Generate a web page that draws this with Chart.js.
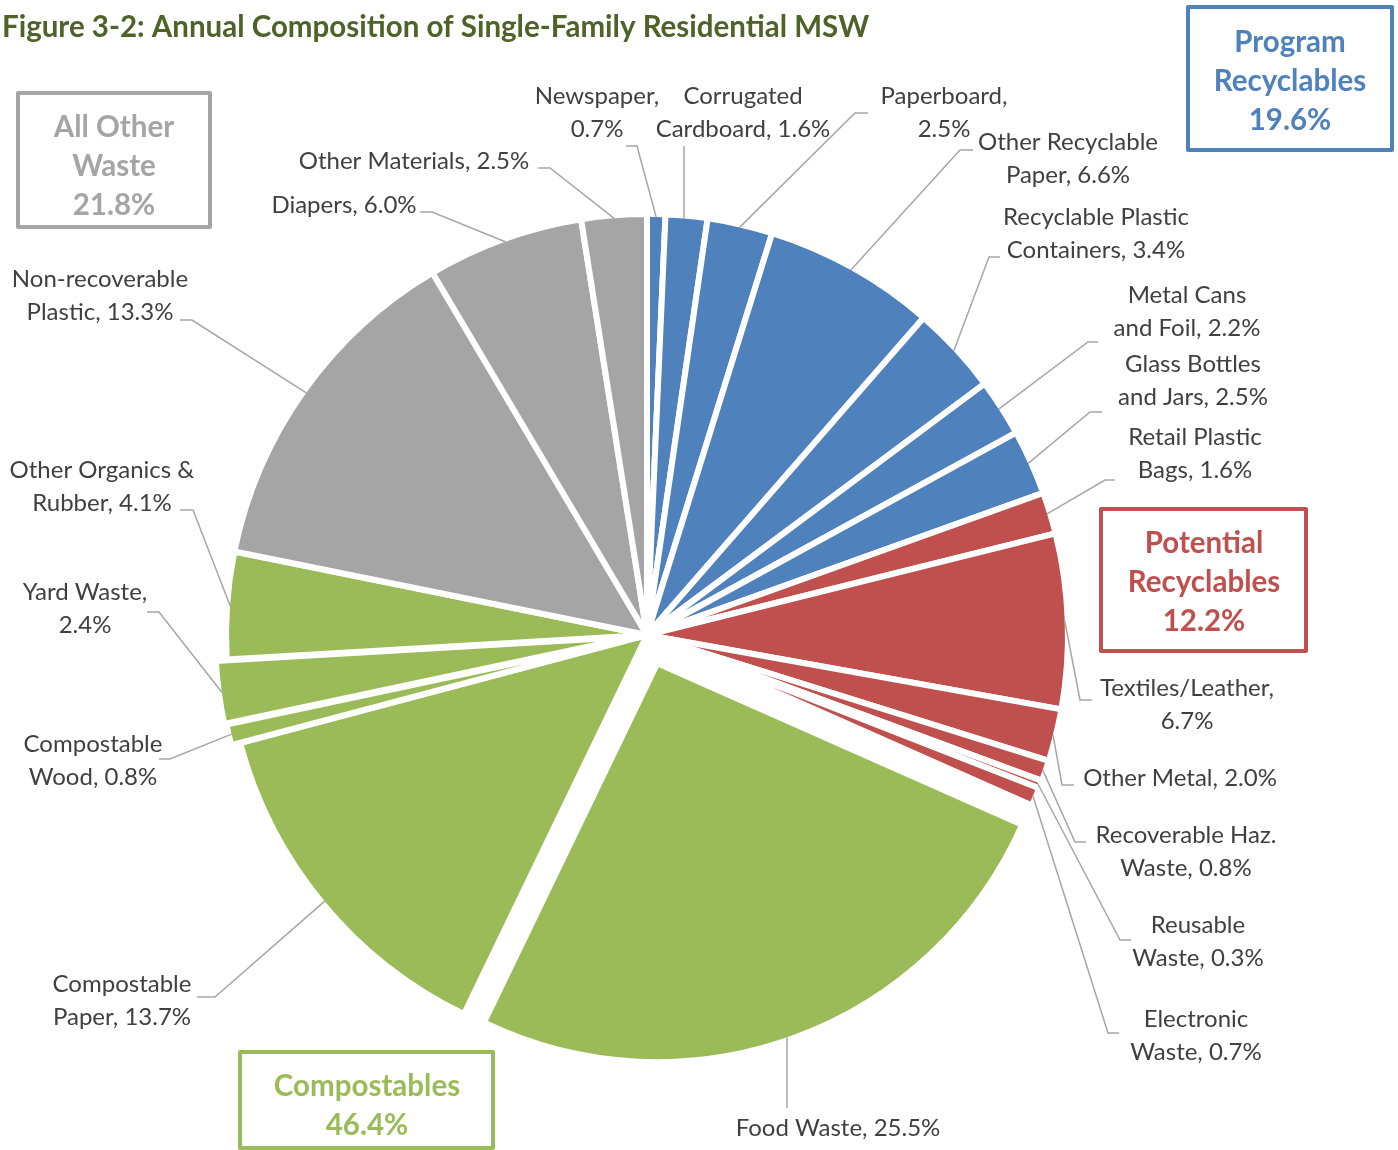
<!DOCTYPE html>
<html>
<head>
<meta charset="utf-8">
<title>Figure 3-2: Annual Composition of Single-Family Residential MSW</title>
<script src="https://cdn.jsdelivr.net/npm/chart.js@4.4.1/dist/chart.umd.min.js"></script>
<style>
  html, body { margin: 0; padding: 0; background: #fff; }
  #wrap { width: 1398px; height: 1150px; position: relative; }
</style>
</head>
<body>
<div id="wrap"><canvas id="myChart" width="1398" height="1150"></canvas></div>
<script>
// data, clockwise from 12 o'clock
const categories = ['Newspaper', 'Corrugated Cardboard', 'Paperboard', 'Other Recyclable Paper',
    'Recyclable Plastic Containers', 'Metal Cans and Foil', 'Glass Bottles and Jars',
    'Retail Plastic Bags', 'Textiles/Leather', 'Other Metal', 'Recoverable Haz. Waste',
    'Reusable Waste', 'Electronic Waste', 'Food Waste', 'Compostable Paper', 'Compostable Wood',
    'Yard Waste', 'Other Organics & Rubber', 'Non-recoverable Plastic', 'Diapers', 'Other Materials'];
const values = [0.7, 1.6, 2.5, 6.6, 3.4, 2.2, 2.5, 1.6, 6.7, 2.0, 0.8, 0.3, 0.7, 25.5, 13.7, 0.8, 2.4, 4.1, 13.3, 6.0, 2.5];
const groupOf = [0, 0, 0, 0, 0, 0, 0, 1, 1, 1, 1, 1, 1, 2, 2, 2, 2, 2, 3, 3, 3];
const groupNames = [['Program', 'Recyclables'], ['Potential', 'Recyclables'], ['Compostables'], ['All Other', 'Waste']];
const groupTotals = [19.6, 12.2, 46.4, 21.8];

// styling
const groupColors = ['#4F81BD', '#C0504D', '#9BBB59', '#A5A5A5'];
const explode = [0, 0, 0, 0, 0, 0, 0, 0, 0, 0, 0, 0, 0, 30, 0, 9, 11, 0, 0, 0, 0];
const shrink = [0, 0, 0, 0, 0, 0, 0, 0, 0, 0, 0, 0, 0, 22, 0, 0, 0, 0, 0, 0, 0];
const borderW = 6;
const labelFont = '24px Lato';
const boxFont = 'bold 29.5px Lato';

// where each callout sits (text centre, first line), words on line one, leader elbow + end
const labelLayout = [
    { x: 597, y: 96, wrap: 1, elbow: [637, 146], end: [626, 146] },
    { x: 743, y: 96, wrap: 1, elbow: [684, 146], end: [684, 146], vertical: true },
    { x: 944, y: 96, wrap: 1, elbow: [855, 113], end: [868, 113] },
    { x: 1068, y: 142, wrap: 2, elbow: [960, 150], end: [973, 150] },
    { x: 1096, y: 217, wrap: 2, elbow: [989, 257], end: [1000, 257] },
    { x: 1187, y: 295, wrap: 2, elbow: [1088, 342], end: [1098, 342] },
    { x: 1193, y: 364, wrap: 2, elbow: [1090, 412], end: [1102, 412] },
    { x: 1195, y: 437, wrap: 2, elbow: [1105, 480], end: [1115, 480] },
    { x: 1187, y: 688, wrap: 1, elbow: [1080, 700], end: [1092, 700] },
    { x: 1180, y: 778, wrap: 0, elbow: [1062, 785], end: [1074, 785] },
    { x: 1186, y: 835, wrap: 2, elbow: [1075, 842], end: [1086, 842] },
    { x: 1198, y: 925, wrap: 1, elbow: [1120, 940], end: [1131, 940] },
    { x: 1196, y: 1019, wrap: 1, elbow: [1108, 1033], end: [1119, 1033] },
    { x: 838, y: 1128, wrap: 0, elbow: [787, 1108], end: [787, 1108], vertical: true },
    { x: 122, y: 984, wrap: 1, elbow: [215, 997], end: [197, 997] },
    { x: 93, y: 744, wrap: 1, elbow: [170, 759], end: [159, 759] },
    { x: 85, y: 592, wrap: 2, elbow: [159, 612], end: [147, 612] },
    { x: 102, y: 470, wrap: 3, elbow: [193, 510], end: [180, 510] },
    { x: 100, y: 279, wrap: 1, elbow: [192, 320], end: [180, 320] },
    { x: 344, y: 205, wrap: 0, elbow: [432, 212], end: [420, 212] },
    { x: 414, y: 161, wrap: 0, elbow: [550, 168], end: [538, 168] }
];

// group boxes: rect + centre x + first text line
const boxLayout = [
    { x: 1188, y: 7, w: 204, h: 143, cx: 1290, ty: 42 },
    { x: 1101, y: 509, w: 205, h: 142, cx: 1204, ty: 543 },
    { x: 240, y: 1052, w: 253, h: 96, cx: 367, ty: 1086 },
    { x: 18, y: 93, w: 192, h: 134, cx: 114, ty: 127 }
];

function labelLines(i) {
    const words = (categories[i] + ', ' + values[i].toFixed(1) + '%').split(' ');
    const n = labelLayout[i].wrap;
    if (!n) return [words.join(' ')];
    return [words.slice(0, n).join(' '), words.slice(n).join(' ')];
}

const callouts = {
    id: 'callouts',
    afterDatasetUpdate(chart, args) {
        // pull exploded slices out along their middle angle
        args.meta.data.forEach((arc, i) => {
            const d = explode[i];
            if (!d) return;
            const mid = (arc.startAngle + arc.endAngle) / 2;
            arc.x += Math.cos(mid) * d;
            arc.y += Math.sin(mid) * d;
            arc.outerRadius -= shrink[i];
        });
    },
    afterDraw(chart) {
        const ctx = chart.ctx;
        const arcs = chart.getDatasetMeta(0).data;
        ctx.save();

        // leader lines
        ctx.strokeStyle = '#A6A6A6';
        ctx.lineWidth = 1.5;
        arcs.forEach((arc, i) => {
            const lab = labelLayout[i];
            const r = arc.outerRadius - borderW / 2;
            const mid = (arc.startAngle + arc.endAngle) / 2;
            let sx, sy;
            if (lab.vertical) {
                sx = lab.elbow[0];
                const dy = Math.sqrt(Math.max(r * r - (sx - arc.x) * (sx - arc.x), 0));
                sy = arc.y + (Math.sin(mid) > 0 ? dy : -dy);
            } else {
                sx = arc.x + Math.cos(mid) * r;
                sy = arc.y + Math.sin(mid) * r;
            }
            ctx.beginPath();
            ctx.moveTo(sx, sy);
            ctx.lineTo(lab.elbow[0], lab.elbow[1]);
            ctx.lineTo(lab.end[0], lab.end[1]);
            ctx.stroke();
        });

        // slice labels
        ctx.fillStyle = '#404040';
        ctx.font = labelFont;
        ctx.textAlign = 'center';
        ctx.textBaseline = 'middle';
        arcs.forEach((arc, i) => {
            const lab = labelLayout[i];
            labelLines(i).forEach((t, k) => ctx.fillText(t, lab.x, lab.y + k * 33));
        });

        // group boxes
        ctx.font = boxFont;
        boxLayout.forEach((b, g) => {
            ctx.strokeStyle = groupColors[g];
            ctx.fillStyle = groupColors[g];
            ctx.lineWidth = 4;
            ctx.lineJoin = 'round';
            ctx.strokeRect(b.x, b.y, b.w, b.h);
            const lines = groupNames[g].concat([groupTotals[g].toFixed(1) + '%']);
            lines.forEach((t, k) => ctx.fillText(t, b.cx, b.ty + k * 39));
        });

        // title
        ctx.textAlign = 'left';
        ctx.fillStyle = '#4F6228';
        ctx.font = 'bold 29.5px Lato';
        ctx.fillText('Figure 3-2: Annual Composition of Single-Family Residential MSW', 2, 27);
        ctx.restore();
    }
};

new Chart(document.getElementById('myChart'), {
    type: 'pie',
    data: {
        labels: categories,
        datasets: [{
            data: values,
            backgroundColor: groupOf.map(g => groupColors[g]),
            borderColor: '#FFFFFF',
            borderWidth: borderW
        }]
    },
    options: {
        responsive: false,
        animation: false,
        events: [],
        radius: 421,
        layout: { padding: { left: 0, right: 104, top: 120, bottom: 0 } },
        plugins: {
            legend: { display: false },
            title: { display: false },
            tooltip: { enabled: false }
        }
    },
    plugins: [callouts]
});
</script>
</body>
</html>
